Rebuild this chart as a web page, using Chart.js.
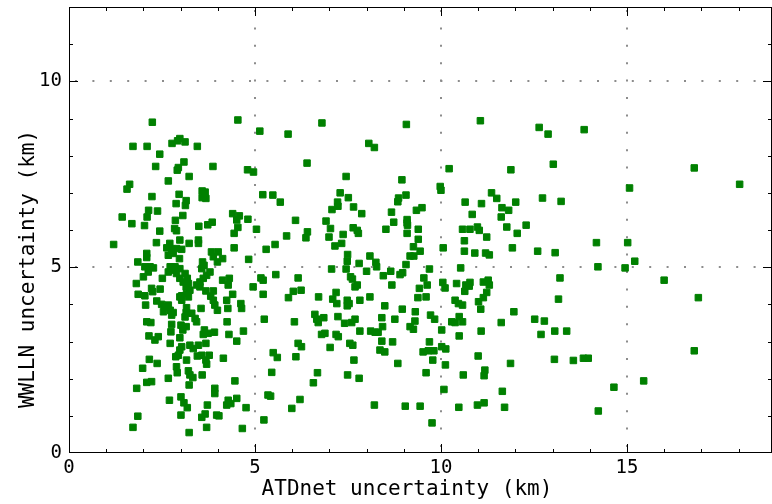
<!DOCTYPE html>
<html>
<head>
<meta charset="utf-8">
<script src="https://cdn.jsdelivr.net/npm/chart.js@4.4.1/dist/chart.umd.min.js"></script>
<style>
  html, body { margin: 0; padding: 0; background: #fff; }
  #wrap { width: 772px; height: 504px; }
</style>
</head>
<body>
<div id="wrap"><canvas id="scatterChart"></canvas></div>
<script>
// ATDnet vs WWLLN uncertainty (km)
const atdnetKm = [
  2.24, 4.54, 5.13, 1.72, 2.10, 2.77, 2.98, 2.92, 3.12, 3.45, 2.44, 3.09, 2.33, 2.94, 2.91, 3.87, 4.80, 4.96, 3.23, 2.67,
  1.63, 1.56, 2.96, 3.58, 3.66, 3.58, 3.68, 2.23, 5.21, 3.15, 2.88, 3.13, 2.14, 2.38, 2.10, 1.43, 3.06, 2.86, 4.40, 4.58,
  4.51, 4.81,
  6.80, 9.07, 5.89, 8.06, 8.21, 6.40, 7.45, 8.95, 5.48, 5.68, 7.29, 7.51, 7.22, 7.23, 7.07, 7.65, 7.87, 8.86, 8.84, 9.06,
  9.49, 9.34, 8.67, 6.09, 6.91, 8.73, 9.09, 9.09, 9.98, 10.00,
  11.06, 12.64, 12.88, 13.85, 10.22, 11.88, 13.02, 11.36, 11.50, 10.65, 11.09, 12.01, 12.73, 13.23, 11.64, 11.82, 10.84, 11.62,
  16.81, 18.03, 15.07,
  2.03, 1.69, 2.44, 2.84, 2.89, 3.49, 3.73, 3.85, 4.54, 4.44, 5.04, 1.20, 2.35, 2.71, 2.98, 3.23, 3.48, 3.48, 2.63, 2.76,
  2.89, 3.03, 2.80, 2.67, 2.09, 2.09, 1.85, 3.83, 4.01, 3.88, 3.99, 4.13, 4.44, 4.83, 5.30, 2.97, 3.59, 2.04, 2.18, 2.27,
  2.13, 2.00, 2.72, 2.85, 2.67, 2.80, 2.89, 2.98, 3.12, 3.18, 3.07, 3.21, 3.15, 3.25, 3.16, 3.03, 3.21, 2.51, 2.98, 3.52,
  3.61, 3.70, 3.57, 3.63, 3.79, 3.43, 3.52, 1.81, 2.22, 2.25, 2.45, 1.86, 2.04, 3.68, 3.88, 3.81, 3.88, 4.13, 4.31, 4.28,
  4.40, 4.95, 5.16, 5.22, 5.22, 2.36, 2.49, 2.58, 2.67, 2.72, 2.54, 2.76, 2.80, 2.98, 3.03, 3.16, 3.15, 3.12, 2.06, 3.30,
  3.39, 3.43, 3.55, 3.92, 3.99, 4.24, 4.27, 4.62, 4.64, 2.09, 2.20, 2.76, 2.74, 3.01, 3.06, 3.15, 4.25, 5.25, 3.64, 3.74,
  3.91, 3.61, 2.15, 2.40, 4.30, 4.69, 2.98,
  2.31, 2.72, 3.03, 2.98, 3.25, 3.34, 3.48, 3.68, 4.51, 2.87, 2.94, 3.16, 2.16, 2.37, 1.98, 3.45, 3.57, 3.77, 3.68, 3.70,
  4.15, 2.89, 2.91, 3.21, 3.25, 3.33, 3.58, 2.67, 2.09, 2.22, 1.82, 3.23, 4.46, 3.92, 3.92, 2.70, 3.01, 3.09, 3.18, 3.72,
  4.28, 4.24, 4.35, 4.51, 4.76, 1.85, 3.01, 3.66, 3.57, 3.97, 4.03, 1.72, 3.23, 3.70, 4.66, 5.24, 5.35,
  5.54, 5.85, 6.37, 6.41, 7.03, 6.99, 7.37, 7.33, 7.15, 7.64, 7.75, 7.78, 8.52, 9.09, 9.10, 9.39, 9.39, 9.26, 9.44, 9.17,
  9.27, 9.06, 7.49, 7.48, 7.45, 7.80, 8.09, 8.25, 8.27, 7.06, 8.00, 8.45, 8.65, 8.90, 8.97, 9.69, 9.54, 9.63, 9.42, 5.56,
  6.16, 7.57, 7.62, 7.75, 7.69, 8.68, 6.03, 6.24, 5.90, 6.71, 7.18, 7.09, 7.20, 7.48, 7.53, 7.48, 7.82, 8.09, 8.49, 9.38,
  9.60, 8.96, 9.31, 6.61, 6.66, 6.70, 6.85, 6.06, 7.23, 7.41, 7.60, 7.69, 8.41, 8.43, 8.76, 9.72, 9.83, 9.30, 9.17, 9.26,
  7.82, 8.11, 8.23, 8.31, 6.79, 6.88, 7.18, 7.24,
  6.16, 6.25, 5.49, 5.60, 6.10, 7.02, 7.55, 7.63, 8.41, 8.70, 8.36, 8.49, 9.69, 9.52, 9.66, 9.81, 9.78, 7.66, 8.84, 5.45,
  6.68, 6.57, 7.49, 7.80, 9.60, 5.42, 6.21, 5.99, 8.21, 9.04, 9.44, 9.76,
  10.58, 10.78, 10.98, 11.03, 11.77, 12.29, 11.23, 12.05, 10.63, 10.06, 10.63, 10.91, 11.20, 11.30, 11.92, 12.60, 13.07, 14.18, 10.53, 14.22,
  13.20, 10.05, 10.11, 10.42, 10.67, 10.78, 10.76, 11.14, 11.27, 11.30, 10.64, 11.23, 11.14, 11.01, 10.38, 10.47, 10.58, 11.07, 13.16, 11.96,
  10.49, 10.29, 10.38, 10.58, 11.62, 12.52, 12.78, 10.02, 11.08, 13.06, 13.38, 10.49, 12.69,
  10.02, 10.13, 10.12, 11.00, 11.87, 13.05, 13.56, 13.83, 13.96, 10.60, 11.18, 11.16, 10.08, 11.65, 10.48, 10.98, 11.16, 11.71, 14.23,
  15.02, 15.21, 14.95, 16.00, 16.92,
  16.81, 15.45, 14.65
];
const wwllnKm = [
  8.90, 8.96, 8.66, 8.25, 8.25, 8.33, 8.46, 8.40, 8.37, 8.25, 8.04, 7.83, 7.71, 7.68, 7.61, 7.71, 7.62, 7.56, 7.44, 7.32,
  7.23, 7.10, 6.96, 7.05, 7.02, 6.87, 6.85, 6.90, 6.95, 6.79, 6.71, 6.66, 6.53, 6.51, 6.35, 6.35, 6.39, 6.26, 6.44, 6.38,
  6.27, 6.29,
  8.88, 8.84, 8.58, 8.33, 8.22, 7.80, 7.44, 7.35, 6.94, 6.75, 7.00, 6.87, 6.75, 6.64, 6.55, 6.62, 6.44, 6.86, 6.76, 6.94,
  6.60, 6.53, 6.48, 6.26, 6.24, 6.21, 6.28, 6.19, 7.17, 7.07,
  8.94, 8.76, 8.58, 8.70, 7.65, 7.62, 7.77, 7.00, 6.85, 6.75, 6.71, 6.75, 6.86, 6.77, 6.60, 6.53, 6.42, 6.35,
  7.67, 7.23, 7.13,
  6.12, 6.17, 5.97, 6.04, 5.98, 6.10, 6.14, 6.21, 6.07, 5.91, 6.02, 5.61, 5.66, 5.64, 5.73, 5.64, 5.73, 5.64, 5.52, 5.48,
  5.50, 5.48, 5.37, 5.32, 5.37, 5.26, 5.14, 5.41, 5.41, 5.28, 5.14, 5.23, 5.52, 5.21, 5.48, 5.23, 5.14, 5.01, 5.01, 4.98,
  4.87, 4.74, 5.01, 5.01, 4.87, 4.92, 4.83, 4.96, 4.83, 4.70, 4.60, 4.56, 4.47, 4.38, 4.29, 4.23, 4.20, 4.70, 4.70, 4.60,
  4.70, 4.78, 4.96, 5.05, 4.87, 4.52, 4.47, 4.56, 4.43, 4.34, 4.41, 4.27, 4.23, 4.36, 4.36, 4.22, 4.11, 4.65, 4.70, 4.52,
  4.27, 4.47, 4.71, 4.65, 4.27, 4.09, 4.00, 3.93, 3.98, 3.84, 3.80, 3.71, 3.78, 4.20, 4.11, 3.91, 3.78, 3.66, 3.98, 3.76,
  3.62, 3.53, 3.89, 3.98, 3.84, 4.11, 3.89, 4.02, 3.89, 3.53, 3.51, 3.46, 3.26, 3.44, 3.31, 3.40, 3.53, 3.60, 3.31, 3.22,
  3.25, 3.19, 3.15, 3.13, 3.19, 3.28, 3.10,
  3.04, 2.95, 2.86, 2.77, 2.90, 2.81, 2.90, 2.95, 3.01, 2.59, 2.63, 2.50, 2.52, 2.41, 2.28, 2.61, 2.63, 2.63, 2.50, 2.39,
  2.55, 2.32, 2.16, 2.21, 2.10, 2.03, 2.10, 2.01, 1.90, 1.92, 1.74, 1.83, 1.94, 1.74, 1.60, 1.42, 1.51, 1.35, 1.22, 1.29,
  1.42, 1.29, 1.33, 1.47, 1.22, 0.99, 1.02, 1.05, 0.96, 1.02, 1.00, 0.69, 0.55, 0.69, 0.66, 0.89, 1.56,
  5.61, 5.84, 5.79, 5.95, 6.04, 5.81, 5.88, 5.64, 5.57, 6.06, 5.99, 5.91, 6.02, 5.91, 6.13, 6.02, 5.75, 5.55, 5.43, 5.30,
  5.30, 5.07, 5.34, 5.16, 4.95, 5.10, 5.30, 5.13, 5.01, 4.95, 4.89, 4.77, 4.89, 4.80, 4.85, 4.95, 4.71, 4.52, 4.43, 4.80,
  4.71, 4.74, 4.68, 4.52, 4.47, 4.52, 4.35, 4.38, 4.18, 4.20, 4.32, 4.14, 4.02, 4.11, 4.02, 3.96, 4.11, 4.20, 3.96, 4.18,
  4.20, 3.87, 3.80, 3.73, 3.60, 3.51, 3.64, 3.53, 3.67, 3.49, 3.51, 3.60, 3.64, 3.40, 3.60, 3.71, 3.60, 3.55, 3.40, 3.33,
  3.28, 3.28, 3.25, 3.25, 3.19, 3.22, 3.19, 3.13,
  2.95, 2.86, 2.70, 2.57, 2.59, 2.84, 2.95, 2.90, 3.01, 2.99, 2.77, 2.72, 2.99, 2.72, 2.75, 2.75, 2.50, 2.50, 2.41, 2.17,
  2.16, 1.89, 2.10, 2.01, 2.16, 1.53, 1.44, 1.20, 1.29, 1.26, 1.26, 0.81,
  6.02, 6.02, 6.08, 5.99, 6.08, 6.13, 5.81, 5.91, 5.71, 5.52, 5.43, 5.38, 5.38, 5.33, 5.52, 5.43, 5.39, 5.66, 4.98, 5.01,
  4.71, 4.59, 4.44, 4.56, 4.52, 4.59, 4.49, 4.60, 4.65, 4.52, 4.35, 4.32, 4.18, 4.07, 4.11, 4.02, 3.98, 3.87, 4.14, 3.80,
  3.67, 3.53, 3.51, 3.53, 3.51, 3.60, 3.55, 3.31, 3.28, 3.28, 3.28, 3.15, 3.19,
  2.86, 2.80, 2.37, 2.61, 2.41, 2.52, 2.49, 2.55, 2.55, 2.10, 2.23, 2.08, 1.71, 1.66, 1.23, 1.29, 1.35, 1.23, 1.13,
  5.66, 5.16, 4.98, 4.65, 4.18,
  2.75, 1.94, 1.77
];
const xTickValues = [0, 5, 10, 15];
const yTickValues = [0, 5, 10];
const xRange = [0, 18.9];
const yRange = [0, 12];
const xTitle = 'ATDnet uncertainty (km)';
const yTitle = 'WWLLN uncertainty (km)';

const points = atdnetKm.map((x, i) => ({ x: x, y: wwllnKm[i] }));

const FONT = "'DejaVu Sans Mono', monospace";

// рамка, внутренние засечки, пунктирная сетка и подписи осей
const framePlugin = {
  id: 'frame',
  beforeDatasetsDraw(chart) {
    const { ctx, chartArea: a, scales: { x, y } } = chart;
    ctx.save();
    ctx.strokeStyle = '#8c8c8c';
    ctx.lineWidth = 2;
    ctx.setLineDash([2, 15.4]);
    xTickValues.slice(1).forEach(v => {
      const px = Math.round(x.getPixelForValue(v));
      ctx.beginPath();
      ctx.moveTo(px, a.bottom - 6);
      ctx.lineTo(px, a.top);
      ctx.stroke();
    });
    yTickValues.slice(1).forEach(v => {
      const py = Math.round(y.getPixelForValue(v));
      ctx.beginPath();
      ctx.moveTo(a.left + 6, py);
      ctx.lineTo(a.right, py);
      ctx.stroke();
    });
    ctx.restore();
  },
  afterDatasetsDraw(chart) {
    const { ctx, chartArea: a, scales: { x, y } } = chart;
    ctx.save();
    ctx.strokeStyle = '#000';
    ctx.lineWidth = 1;
    ctx.strokeRect(a.left + 0.5, a.top + 0.5, a.right - a.left - 1, a.bottom - a.top - 1);
    ctx.beginPath();
    for (let v = 1; v < xRange[1]; v++) {
      const px = Math.round(x.getPixelForValue(v)) + 0.5;
      const len = v % 5 === 0 ? 9 : 4;
      ctx.moveTo(px, a.bottom); ctx.lineTo(px, a.bottom - len);
      ctx.moveTo(px, a.top); ctx.lineTo(px, a.top + len);
    }
    for (let v = 1; v < yRange[1]; v++) {
      const py = Math.round(y.getPixelForValue(v)) + 0.5;
      const len = v % 5 === 0 ? 9 : 4;
      ctx.moveTo(a.left, py); ctx.lineTo(a.left + len, py);
      ctx.moveTo(a.right, py); ctx.lineTo(a.right - len, py);
    }
    ctx.stroke();

    // подписи осей
    ctx.fillStyle = '#000';
    ctx.font = '21px ' + FONT;
    ctx.textAlign = 'center';
    ctx.textBaseline = 'middle';
    ctx.fillText(xTitle, 407, 490);
    ctx.translate(29, 269);
    ctx.rotate(-Math.PI / 2);
    ctx.fillText(yTitle, 0, 0);
    ctx.restore();
  }
};

new Chart(document.getElementById('scatterChart').getContext('2d'), {
  type: 'scatter',
  data: {
    datasets: [{
      label: 'WWLLN vs ATDnet',
      data: points,
      pointStyle: 'rect',
      pointRadius: 4.6,
      pointHoverRadius: 4.6,
      backgroundColor: '#008000',
      borderColor: '#008000',
      borderWidth: 1
    }]
  },
  options: {
    responsive: true,
    maintainAspectRatio: false,
    animation: false,
    events: [],
    layout: { autoPadding: false, padding: { top: 7, right: 0, left: 0, bottom: 0 } },
    plugins: { legend: { display: false }, tooltip: { enabled: false } },
    scales: {
      x: {
        type: 'linear',
        min: xRange[0],
        max: xRange[1],
        afterFit: s => { s.height = 51; s.paddingLeft = 0; s.paddingRight = 0; },
        afterBuildTicks: s => { s.ticks = xTickValues.map(v => ({ value: v })); },
        grid: { display: false, drawTicks: false },
        border: { display: false },
        ticks: { color: '#000', font: { family: FONT, size: 19 }, padding: 4, maxRotation: 0 }
      },
      y: {
        type: 'linear',
        min: yRange[0],
        max: yRange[1],
        afterFit: s => { s.width = 69; s.paddingTop = 0; s.paddingBottom = 0; },
        afterBuildTicks: s => { s.ticks = yTickValues.map(v => ({ value: v })); },
        grid: { display: false, drawTicks: false },
        border: { display: false },
        ticks: { color: '#000', font: { family: FONT, size: 19 }, padding: 7 }
      }
    }
  },
  plugins: [framePlugin]
});
</script>
</body>
</html>
